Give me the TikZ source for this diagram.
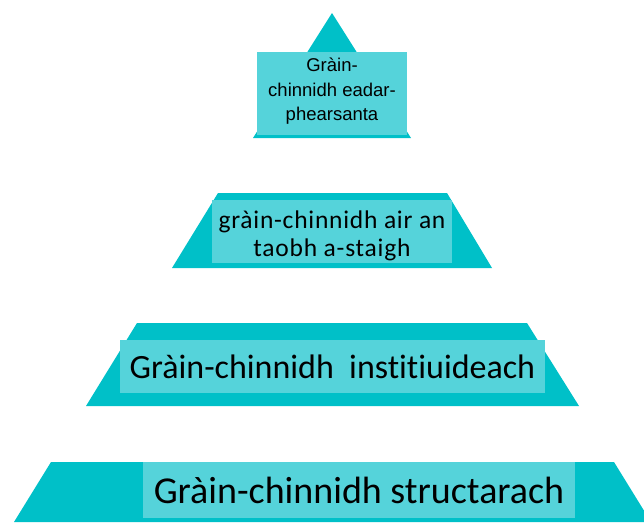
\documentclass[tikz,border=0pt]{standalone}
\usepackage{fontspec}
\setmainfont{Carlito}[Ligatures=NoCommon]
\newfontfamily\arialfont{Liberation Sans}
\newfontfamily\loosefont{Carlito}[Ligatures=NoCommon,LetterSpace=3]
\definecolor{tierteal}{RGB}{0,192,200}
\definecolor{boxteal}{RGB}{85,211,218}
\begin{document}
\begin{tikzpicture}[x=1pt,y=-1pt,
  tier/.style={fill=tierteal,draw=none},
  txtbox/.style={fill=boxteal,draw=none,inner sep=0pt,text=black,align=center}]
\useasboundingbox (0,0) rectangle (644,522);
% tiers
\fill[tier] (253,138) -- (332,13) -- (411,138) -- cycle;
\fill[tier] (218,193) -- (447,193) -- (492,268) -- (172,268) -- cycle;
\fill[tier] (137,323) -- (527,323) -- (579,406) -- (86,406) -- cycle;
\fill[tier] (51,462) -- (614,462) -- (651,522) -- (14,522) -- cycle;
% text boxes
\node[txtbox,minimum width=150,minimum height=83,font=\arialfont\fontsize{18.5}{24.5}\selectfont] (t1) at (332,93.5) {\raisebox{2pt}[\height][\depth]{\begin{tabular}{@{}c@{}}Gràin-\\chinnidh eadar-\\phearsanta\end{tabular}}};
\node[txtbox,minimum width=240,minimum height=63,font=\loosefont\fontsize{25.5}{28.3}\selectfont] (t2) at (332,231.5) {\raisebox{-5pt}[\height][\depth]{\begin{tabular}{@{}c@{}}gràin-chinnidh air an\\taobh a-staigh\end{tabular}}};
\node[txtbox,minimum width=425,minimum height=53,font=\fontsize{34}{38}\selectfont] (t3) at (332.5,366.5) {Gràin-chinnidh\ \ institiuideach};
\node[txtbox,minimum width=432,minimum height=56,font=\fontsize{38}{42}\selectfont] (t4) at (359,490) {Gràin-chinnidh structarach};
\end{tikzpicture}
\end{document}
